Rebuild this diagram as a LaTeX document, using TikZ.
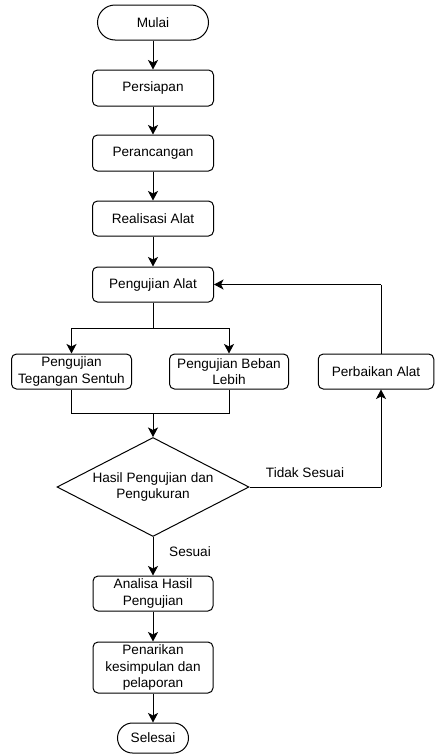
\documentclass[tikz,border=0pt]{standalone}
\usepackage{fontspec}
\setmainfont{Liberation Sans}
\usetikzlibrary{shapes.geometric,arrows.meta}
\begin{document}
\begin{tikzpicture}[x=1pt,y=-1pt,
  every node/.style={font=\fontsize{13.6}{16.5}\selectfont},
  proc/.style={draw, line width=1pt, rounded corners=5pt, inner sep=0pt, align=center},
  term/.style={draw, line width=1pt, inner sep=0pt, align=center},
  conn/.style={line width=1pt, -{Stealth[length=9.5pt,width=10pt,inset=2.5pt]}},
  plain/.style={line width=1pt},
  lbl/.style={inner sep=0pt}
]
\useasboundingbox (0,0) rectangle (435,755);
% nodes
\node[term, rounded corners=17.5pt, minimum width=111pt, minimum height=35pt] (mulai) at (153,22.5) {Mulai};
\node[proc, minimum width=121pt, minimum height=36pt] (persiapan) at (153,88) {Persiapan};
\node[proc, minimum width=121pt, minimum height=36pt] (perancangan) at (153,153) {Perancangan};
\node[proc, minimum width=121pt, minimum height=35pt] (realisasi) at (153,218.5) {Realisasi Alat};
\node[proc, minimum width=121pt, minimum height=35pt] (pengujian) at (153,284.5) {Pengujian Alat};
\node[proc, minimum width=120pt, minimum height=35pt] (tegangan) at (71.5,371.5) {Pengujian\\Tegangan Sentuh};
\node[proc, minimum width=119pt, minimum height=35pt] (beban) at (229,371.5) {Pengujian Beban\\Lebih};
\node[proc, minimum width=115.5pt, minimum height=35pt] (perbaikan) at (376,371.5) {Perbaikan Alat};
\node[diamond, draw, line width=1pt, minimum width=192pt, minimum height=99pt, inner sep=0pt] (hasil) at (153,487) {};
\node[lbl, align=center] (hasiltxt) at (hasil.center) {Hasil Pengujian dan\\Pengukuran};
\node[proc, minimum width=120pt, minimum height=35pt] (analisa) at (153,593.5) {Analisa Hasil\\Pengujian};
\node[proc, minimum width=120pt, minimum height=51pt] (penarikan) at (153,667.5) {Penarikan\\kesimpulan dan\\pelaporan};
\node[term, rounded corners=15pt, minimum width=71pt, minimum height=30pt] (selesai) at (153,738) {Selesai};
% helper coordinates
\coordinate (split) at (153,328);
\coordinate (merge) at (153,413);
\coordinate (nojoin) at (381,487);
\coordinate (backtop) at (381,284.5);
% labels
\node[lbl] (tidak) at (305,473) {Tidak Sesuai};
\node[lbl] (sesuai) at (190,552) {Sesuai};
% connectors
\draw[conn] (mulai) -- (persiapan);
\draw[conn] (persiapan) -- (perancangan);
\draw[conn] (perancangan) -- (realisasi);
\draw[conn] (realisasi) -- (pengujian);
\draw[plain] (pengujian.south) -- (split);
\draw[conn] (split) -| (tegangan.north);
\draw[conn] (split) -| (beban.north);
\draw[plain] (tegangan.south) |- (merge);
\draw[plain] (beban.south) |- (merge);
\draw[conn] (merge) -- (hasil.north);
\draw[plain] (hasil.east) -- (nojoin);
\draw[conn] (nojoin) -- (nojoin |- perbaikan.south);
\draw[plain] (backtop |- perbaikan.north) -- (backtop);
\draw[conn] (backtop) -- (pengujian.east);
\draw[conn] (hasil.south) -- (analisa.north);
\draw[conn] (analisa) -- (penarikan);
\draw[conn] (penarikan) -- (selesai);
\end{tikzpicture}
\end{document}
